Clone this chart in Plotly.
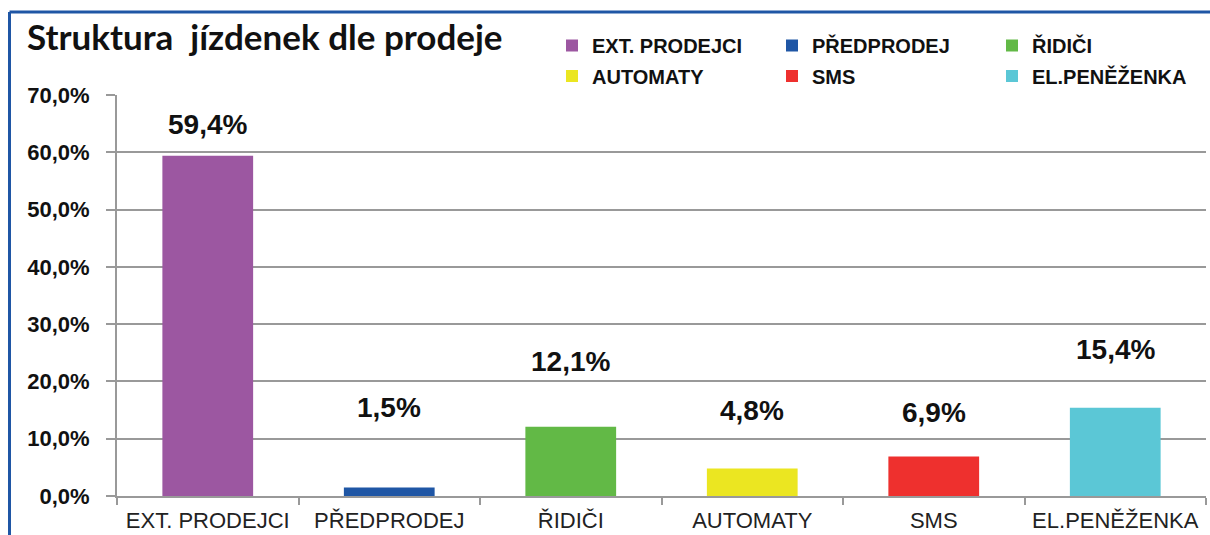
import plotly.graph_objects as go

# ---- data ----
categories = ["EXT. PRODEJCI", "PŘEDPRODEJ", "ŘIDIČI", "AUTOMATY", "SMS", "EL.PENĚŽENKA"]
values = [59.4, 1.5, 12.1, 4.8, 6.9, 15.4]
y_ticks = [0, 10, 20, 30, 40, 50, 60, 70]

# ---- styles / layout ----
colors = ["#9C57A1", "#1F56A5", "#62B946", "#EBE621", "#EE302E", "#5BC7D6"]
label_pos = [64.9, 15.4, 23.4, 15.0, 14.5, 25.5]   # label heights (manually placed in source)
legend_of = ["legend", "legend", "legend", "legend2", "legend2", "legend2"]

W, H = 1210, 535
PL, PR, PT, PB = 117, 1206, 95, 496          # plot area in page pixels
ML, MR, MT, MB = PL, W - PR, PT, H - PB
pw = W - ML - MR
ph = H - MT - MB

def px_x(p):            # page pixel -> paper x
    return (p - ML) / pw

def px_y(p):            # page pixel -> paper y
    return (H - MB - p) / ph

sans = "Liberation Sans, Arial, sans-serif"

fig = go.Figure()
for cat, val, col, lg in zip(categories, values, colors, legend_of):
    fig.add_trace(go.Bar(
        x=[cat], y=[val], name=cat,
        marker=dict(color=col, line=dict(width=0)),
        legend=lg, hoverinfo="x+y",
    ))

for cat, val, ly in zip(categories, values, label_pos):
    fig.add_annotation(
        x=cat, y=ly, xref="x", yref="y",
        text=f"<b>{val:.1f}%</b>".replace(".", ","),
        showarrow=False, font=dict(family=sans, size=28, color="#111"),
        xanchor="center", yanchor="middle",
    )

# blue frame (top and left border of the chart object)
fig.add_shape(type="line", xref="paper", yref="paper",
              x0=px_x(9.5), x1=px_x(W), y0=px_y(12), y1=px_y(12),
              line=dict(color="#1F56A5", width=3))
fig.add_shape(type="line", xref="paper", yref="paper",
              x0=px_x(9.5), x1=px_x(9.5), y0=px_y(12), y1=px_y(H),
              line=dict(color="#1F56A5", width=3))

legend_common = dict(
    orientation="h", xanchor="left", yanchor="middle",
    font=dict(family=sans, size=20, color="#111", weight="bold"),
    entrywidth=175, entrywidthmode="pixels",
    bgcolor="rgba(0,0,0,0)", borderwidth=0, itemclick=False,
)

fig.update_layout(
    width=W, height=H,
    margin=dict(l=ML, r=MR, t=MT, b=MB, pad=0, autoexpand=False),
    paper_bgcolor="white", plot_bgcolor="white",
    barmode="overlay", bargap=0.5,
    separators=", ",
    title=dict(text="<b>Struktura\u00a0\u00a0jízdenek dle prodeje</b>",
               x=27 / W, xanchor="left", xref="container",
               y=1 - 38 / H, yanchor="middle", yref="container",
               font=dict(family="Lato, Liberation Sans, sans-serif", size=35, color="#111")),
    legend=dict(x=px_x(552), y=px_y(45.5), **legend_common),
    legend2=dict(x=px_x(552), y=px_y(76), **legend_common),
    xaxis=dict(
        type="category", categoryorder="array", categoryarray=categories,
        showline=True, linecolor="#999999", linewidth=2,
        ticks="outside", tickson="boundaries", ticklen=7, tickcolor="#999999", tickwidth=2,
        tickfont=dict(family=sans, size=22, color="#222"),
        ticklabelstandoff=4,
        tickangle=0, automargin=False,
        showgrid=False, zeroline=False,
    ),
    yaxis=dict(
        range=[0, 70], tickvals=y_ticks,
        ticktext=[f"{v:.1f}%".replace(".", ",") for v in y_ticks],
        showline=True, linecolor="#999999", linewidth=2,
        ticks="outside", ticklen=9, tickcolor="#999999", tickwidth=2,
        tickfont=dict(family=sans, size=22, color="#111", weight="bold"),
        ticklabelstandoff=12, automargin=False,
        showgrid=True, gridcolor="#999999", gridwidth=2, zeroline=False,
    ),
)

fig.write_html(
    "out.html",
    config={"displayModeBar": False},
    post_script="document.body.style.margin='0';document.body.style.overflow='hidden';",
)
